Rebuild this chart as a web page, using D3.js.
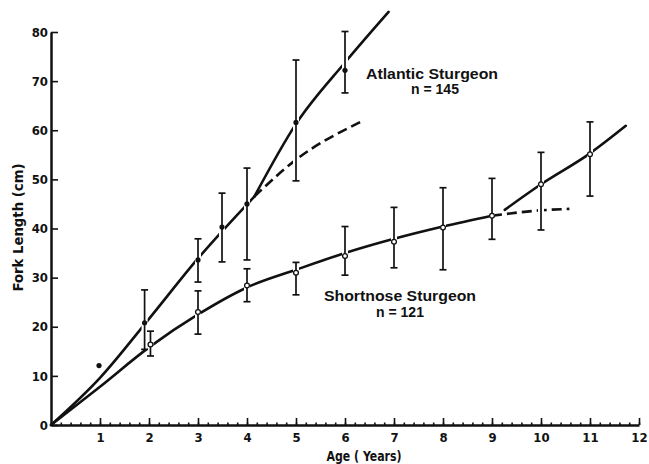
<!DOCTYPE html>
<html>
<head>
<meta charset="utf-8">
<style>
/*	page and chart styles	*/
body {
  margin: 0;
  background: #fff;
}

svg text {
  font-family: "DejaVu Sans Condensed", "Liberation Sans Narrow", sans-serif;
  font-weight: bold;
  fill: #111;
}

.axis path,
.axis line {
  stroke: #111;
}

.axis path {
  stroke-width: 2.5px;
}

.axis line {
  stroke-width: 1.6px;
}

.curve {
  fill: none;
  stroke: #111;
  stroke-width: 2.6px;
  stroke-linecap: round;
}

.dashed {
  stroke-dasharray: 10 5;
  stroke-linecap: butt;
}

.halo {
  stroke: #fff;
  stroke-width: 6px;
}

.bar {
  stroke: #111;
  stroke-width: 1.7px;
}

.label {
  font-family: "Liberation Sans", Arial, sans-serif;
  font-size: 14px;
}
</style>
</head>
<body>
<svg id="chart" width="649" height="464"></svg>

<script src="https://cdn.jsdelivr.net/npm/d3@7/dist/d3.min.js"></script>
<script>

//	ages on the x axis and tick labels
var xTicks = [1, 2, 3, 4, 5, 6, 7, 8, 9, 10, 11, 12];
var yTicks = [0, 10, 20, 30, 40, 50, 60, 70, 80];

//	Atlantic sturgeon: mean fork length with range
var atlanticAge  = [1.91, 3, 3.49, 4, 5, 6];
var atlanticMean = [20.8, 33.6, 40.3, 45, 61.6, 72.2];
var atlanticLow  = [15.4, 29.1, 33.2, 33.6, 49.7, 67.6];
var atlanticHigh = [27.5, 37.9, 47.2, 52.3, 74.3, 80.1];
var atlanticAge1 = [[0.98, 12.1]];

//	Shortnose sturgeon: mean fork length with range
var shortAge  = [2.03, 3, 4, 5, 6, 7, 8, 9, 10, 11];
var shortMean = [16.4, 23.0, 28.4, 31.0, 34.4, 37.3, 40.2, 42.6, 49.0, 55.1];
var shortLow  = [14.05, 18.5, 25.1, 26.5, 30.5, 32.0, 31.6, 37.8, 39.7, 46.6];
var shortHigh = [19.1, 27.3, 31.8, 33.1, 40.4, 44.3, 48.3, 50.2, 55.5, 61.7];

//	fitted growth curves
var atlanticFit      = [[0, 0], [1, 9.6], [2, 21.6], [3, 33.9], [4.15, 46.5]];
var atlanticFitUpper = [[4.15, 46.5], [5, 61.3], [6, 73.8], [6.89, 84.1]];
var atlanticFitDash  = [[4.15, 46.5], [5, 54], [6.32, 61.7]];
var shortFit      = [[0, 0], [1, 7.8], [2, 15.8], [3, 22.5], [4, 28], [5, 31.6], [6, 35], [7, 37.9], [8, 40.4], [9, 42.6]];
var shortFitUpper = [[9.26, 43.8], [10, 49], [11, 55.3], [11.73, 60.9]];
var shortFitDash  = [[9, 42.6], [10, 43.7], [10.58, 44.0]];

//	svg selection and scales
var svg = d3.select("#chart");

var x = d3.scaleLinear().domain([0, 12]).range([51, 639]);
var y = d3.scaleLinear().domain([0, 80]).range([425, 32]);

var line = d3.line()
    .x(function(d) { return x(d[0]); })
    .y(function(d) { return y(d[1]); })
    .curve(d3.curveMonotoneX);

//	minor ticks along the age axis
svg.append("g")
    .attr("class", "axis minor")
    .attr("transform", "translate(0," + y(0) + ")")
    .call(d3.axisBottom(x).ticks(60).tickSizeInner(-2.5).tickSizeOuter(0).tickFormat(""))
  .select(".domain").remove();

//	axes
svg.append("g")
    .attr("class", "axis")
    .attr("transform", "translate(0," + y(0) + ")")
    .call(d3.axisBottom(x).tickValues(xTicks).tickSizeInner(-7).tickSizeOuter(0).tickPadding(8))
    .call(function(g) { g.selectAll("text").attr("font-size", 13); });

svg.append("g")
    .attr("class", "axis")
    .attr("transform", "translate(" + x(0) + ",0)")
    .call(d3.axisLeft(y).tickValues(yTicks).tickSizeInner(-7).tickSizeOuter(0).tickPadding(3))
    .call(function(g) { g.selectAll("text").attr("font-size", 13); });

//	axis titles
svg.append("text")
    .attr("transform", "translate(23,227.5) rotate(-90)")
    .attr("text-anchor", "middle")
    .attr("font-size", 13.5)
    .attr("textLength", 128).attr("lengthAdjust", "spacingAndGlyphs")
    .text("Fork  Length  (cm)");

svg.append("text")
    .attr("x", 364)
    .attr("y", 461)
    .attr("text-anchor", "middle")
    .attr("font-size", 13.5)
    .attr("textLength", 75).attr("lengthAdjust", "spacingAndGlyphs")
    .text("Age  ( Years)");

//	white halo under each error bar so the curves break at them
function bars(age, low, high) {
  var data = age.map(function(a, i) { return {a: a, lo: low[i], hi: high[i]}; });
  svg.append("g").selectAll("line").data(data).enter().append("line")
      .attr("class", "halo")
      .attr("x1", function(d) { return x(d.a); })
      .attr("x2", function(d) { return x(d.a); })
      .attr("y1", function(d) { return y(d.hi); })
      .attr("y2", function(d) { return y(d.lo); });
  return data;
}

function drawBars(data) {
  var g = svg.append("g");
  g.selectAll(".v").data(data).enter().append("line")
      .attr("class", "bar")
      .attr("x1", function(d) { return x(d.a); })
      .attr("x2", function(d) { return x(d.a); })
      .attr("y1", function(d) { return y(d.hi); })
      .attr("y2", function(d) { return y(d.lo); });
  ["hi", "lo"].forEach(function(k) {
    g.selectAll(".c" + k).data(data).enter().append("line")
        .attr("class", "bar")
        .attr("x1", function(d) { return x(d.a) - 3.5; })
        .attr("x2", function(d) { return x(d.a) + 3.5; })
        .attr("y1", function(d) { return y(d[k]); })
        .attr("y2", function(d) { return y(d[k]); });
  });
}

//	curves
[atlanticFit, atlanticFitUpper, shortFit, shortFitUpper].forEach(function(c) {
  svg.append("path").attr("class", "curve").attr("d", line(c));
});
[atlanticFitDash, shortFitDash].forEach(function(c) {
  svg.append("path").attr("class", "curve dashed").attr("d", line(c));
});

var aData = bars(atlanticAge, atlanticLow, atlanticHigh);
var sData = bars(shortAge, shortLow, shortHigh);
drawBars(aData);
drawBars(sData);

//	means: filled for Atlantic, open for shortnose
svg.append("g").selectAll("circle")
    .data(atlanticAge.map(function(a, i) { return [a, atlanticMean[i]]; }).concat(atlanticAge1))
  .enter().append("circle")
    .attr("cx", function(d) { return x(d[0]); })
    .attr("cy", function(d) { return y(d[1]); })
    .attr("r", 2.6)
    .attr("fill", "#111");

svg.append("g").selectAll("circle")
    .data(shortAge.map(function(a, i) { return [a, shortMean[i]]; }))
  .enter().append("circle")
    .attr("cx", function(d) { return x(d[0]); })
    .attr("cy", function(d) { return y(d[1]); })
    .attr("r", 2.4)
    .attr("fill", "#fff")
    .attr("stroke", "#111")
    .attr("stroke-width", 1.3);

//	species labels
svg.append("text").attr("class", "label")
    .attr("x", 366).attr("y", 78.5)
    .attr("textLength", 132).attr("lengthAdjust", "spacingAndGlyphs")
    .text("Atlantic  Sturgeon");
svg.append("text").attr("class", "label")
    .attr("x", 435).attr("y", 93.5).attr("text-anchor", "middle")
    .text("n = 145");

svg.append("text").attr("class", "label")
    .attr("x", 324).attr("y", 300.5)
    .attr("textLength", 152).attr("lengthAdjust", "spacingAndGlyphs")
    .text("Shortnose  Sturgeon");
svg.append("text").attr("class", "label")
    .attr("x", 400).attr("y", 317).attr("text-anchor", "middle")
    .text("n = 121");

</script>
</body>
</html>
